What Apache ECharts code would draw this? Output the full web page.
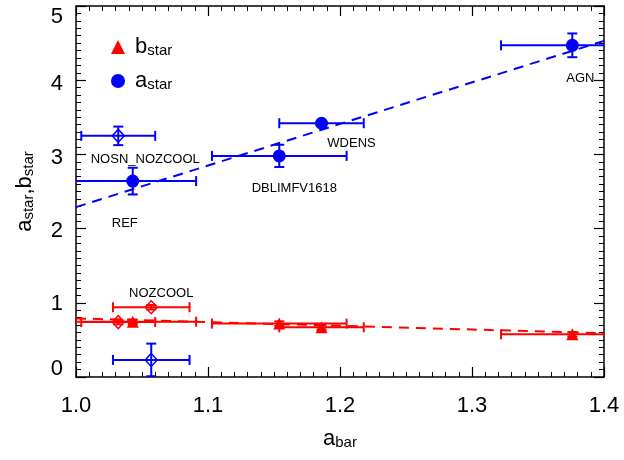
<!DOCTYPE html>
<html>
<head>
<meta charset="utf-8">
<title>a_star, b_star vs a_bar</title>
<script src="https://cdn.jsdelivr.net/npm/echarts@6/dist/echarts.min.js"></script>
</head>
<body style="margin:0">
<div id="main" style="width:624px;height:460px;"></div>
<script type="text/javascript">
// one entry per run
var names = ['REF', 'NOSN_NOZCOOL', 'NOZCOOL', 'DBLIMFV1618', 'WDENS', 'AGN'];
var aBar = [1.043, 1.032, 1.057, 1.154, 1.186, 1.376];
var aBarErr = [0.048, 0.028, 0.029, 0.051, 0.032, 0.054];
var aStar = [2.64, 3.25, 0.23, 2.98, 3.42, 4.47];
var aStarErr = [0.18, 0.125, 0.22, 0.15, 0.03, 0.16];
var bStar = [0.745, 0.74, 0.94, 0.72, 0.67, 0.575];
var bStarErr = [0.03, 0.03, 0.03, 0.03, 0.03, 0.03];
var openRuns = ['NOSN_NOZCOOL', 'NOZCOOL'];   // drawn as open diamonds
var aFit = [[1.0, 2.29], [1.4, 4.53]];
var bFit = [[1.0, 0.79], [1.4, 0.59]];
var labelOn = {NOZCOOL: 'b'};                 // which point a run label sits next to

var BLUE = '#0000ff', RED = '#ff0000';
var FONT = 'Liberation Sans';
// where the run names go, relative to their point (px)
var labelOffsets = {
    REF: [-8, 42], NOSN_NOZCOOL: [27, 24], NOZCOOL: [10, -14],
    DBLIMFV1618: [15, 33], WDENS: [30, 20], AGN: [8, 33]
};

function pts(ys, open) {
    var out = [];
    for (var i = 0; i < names.length; i++) {
        var isOpen = openRuns.indexOf(names[i]) >= 0;
        if (isOpen === open) out.push([aBar[i], ys[i]]);
    }
    return out;
}

function errorBars(ys, errs, color) {
    var d = [];
    for (var i = 0; i < names.length; i++) d.push([aBar[i], ys[i], aBarErr[i], errs[i]]);
    return {
        type: 'custom',
        clip: true,
        z: 2,
        silent: true,
        data: d,
        renderItem: function (params, api) {
            var x = api.value(0), y = api.value(1), dx = api.value(2), dy = api.value(3);
            var l = api.coord([x - dx, y]), r = api.coord([x + dx, y]);
            var t = api.coord([x, y + dy]), b = api.coord([x, y - dy]);
            var c = 5;
            var segs = [
                [l[0], l[1], r[0], r[1]],
                [l[0], l[1] - c, l[0], l[1] + c],
                [r[0], r[1] - c, r[0], r[1] + c],
                [t[0], t[1], b[0], b[1]],
                [t[0] - c, t[1], t[0] + c, t[1]],
                [b[0] - c, b[1], b[0] + c, b[1]]
            ];
            return {
                type: 'group',
                children: segs.map(function (s) {
                    return {
                        type: 'line',
                        shape: {x1: s[0], y1: s[1], x2: s[2], y2: s[3]},
                        style: {stroke: color, lineWidth: 2}
                    };
                })
            };
        }
    };
}

var labelData = names.map(function (n, i) {
    var y = labelOn[n] === 'b' ? bStar[i] : aStar[i];
    return {name: n, value: [aBar[i], y], label: {offset: labelOffsets[n]}};
});

var rich = {
    m: {fontSize: 22, fontFamily: FONT, color: '#000', lineHeight: 22, verticalAlign: 'top'},
    s: {fontSize: 15, fontFamily: FONT, color: '#000', lineHeight: 10, verticalAlign: 'bottom'}
};

// nudge y tick labels like the original
var yShift = {0: -8, 1: 1, 2: 2, 3: 4, 4: 4, 5: 11};
var yRich = {};
[0, 1, 2, 3, 4, 5].forEach(function (v) {
    var s = yShift[v];
    yRich['y' + v] = {
        fontSize: 22, fontFamily: FONT, color: '#000',
        padding: s > 0 ? [2 * s, 0, 0, 0] : [0, 0, -2 * s, 0]
    };
});

var tick = {show: true, inside: true, length: 10, lineStyle: {color: '#000', width: 1.2}};
var minor = {show: true, splitNumber: 10, length: 5, lineStyle: {color: '#000', width: 1}};
var line = {show: true, onZero: false, lineStyle: {color: '#000', width: 1.5}};

var myChart = echarts.init(document.getElementById('main'));

var option = {
    animation: false,
    backgroundColor: '#fff',
    grid: {left: 76, right: 20, top: 6, bottom: 83},
    legend: {
        data: ['b_star', 'a_star'],
        orient: 'vertical',
        left: 106,
        top: 31,
        itemWidth: 14,
        itemHeight: 14,
        itemGap: 12,
        selectedMode: false,
        formatter: function (n) { return '{m|' + n.split('_')[0] + '}{s|' + n.split('_')[1] + '}'; },
        textStyle: {padding: [0, 0, 0, 5], rich: rich}
    },
    xAxis: [{
        type: 'value', min: 1.0, max: 1.4, interval: 0.1,
        name: '{m|a}{s|bar}', nameLocation: 'middle', nameGap: 51,
        nameTextStyle: {rich: rich},
        axisLine: line, axisTick: tick, minorTick: minor,
        splitLine: {show: false},
        axisLabel: {margin: 18, fontSize: 22, fontFamily: FONT, color: '#000',
            formatter: function (v) { return v.toFixed(1); }}
    }, {
        type: 'value', min: 1.0, max: 1.4, interval: 0.1, position: 'top',
        axisLine: line, axisTick: tick, minorTick: minor,
        splitLine: {show: false}, axisLabel: {show: false}
    }],
    yAxis: [{
        type: 'value', min: 0, max: 5, interval: 1,
        name: '{m|a}{s|star}{m|,b}{s|star}', nameLocation: 'middle', nameGap: 40,
        nameTextStyle: {rich: rich},
        axisLine: line, axisTick: tick, minorTick: minor,
        splitLine: {show: false},
        axisLabel: {margin: 13, formatter: function (v) { return '{y' + v + '|' + v + '}'; }, rich: yRich}
    }, {
        type: 'value', min: 0, max: 5, interval: 1, position: 'right',
        axisLine: line, axisTick: tick, minorTick: minor,
        splitLine: {show: false}, axisLabel: {show: false}
    }],
    series: [
        errorBars(aStar, aStarErr, BLUE),
        errorBars(bStar, bStarErr, RED),
        {
            name: 'a_fit', type: 'line', data: aFit, showSymbol: false, z: 1,
            lineStyle: {color: BLUE, width: 2, type: [10, 7]}
        },
        {
            name: 'b_fit', type: 'line', data: bFit, showSymbol: false, z: 1,
            lineStyle: {color: RED, width: 2, type: [10, 7]}
        },
        {
            name: 'b_star', type: 'scatter', symbol: 'triangle', symbolSize: 12, z: 3,
            itemStyle: {color: RED, opacity: 1}, data: pts(bStar, false)
        },
        {
            name: 'a_star', type: 'scatter', symbol: 'circle', symbolSize: 13, z: 3,
            itemStyle: {color: BLUE, opacity: 1}, data: pts(aStar, false)
        },
        {
            name: 'b_open', type: 'scatter', symbol: 'diamond', symbolSize: [12, 13], z: 3,
            itemStyle: {color: 'rgba(0,0,0,0)', borderColor: RED, borderWidth: 1.5, opacity: 1},
            data: pts(bStar, true)
        },
        {
            name: 'a_open', type: 'scatter', symbol: 'diamond', symbolSize: [12, 13], z: 3,
            itemStyle: {color: 'rgba(0,0,0,0)', borderColor: BLUE, borderWidth: 1.5, opacity: 1},
            data: pts(aStar, true)
        },
        {
            name: 'run_labels', type: 'scatter', symbolSize: 0, z: 4, silent: true,
            itemStyle: {opacity: 1},
            data: labelData,
            label: {show: true, position: 'inside', formatter: '{b}',
                fontSize: 13, fontFamily: FONT, color: '#000', opacity: 1,
                textBorderWidth: 0}
        }
    ]
};
myChart.setOption(option);
</script>
</body>
</html>
